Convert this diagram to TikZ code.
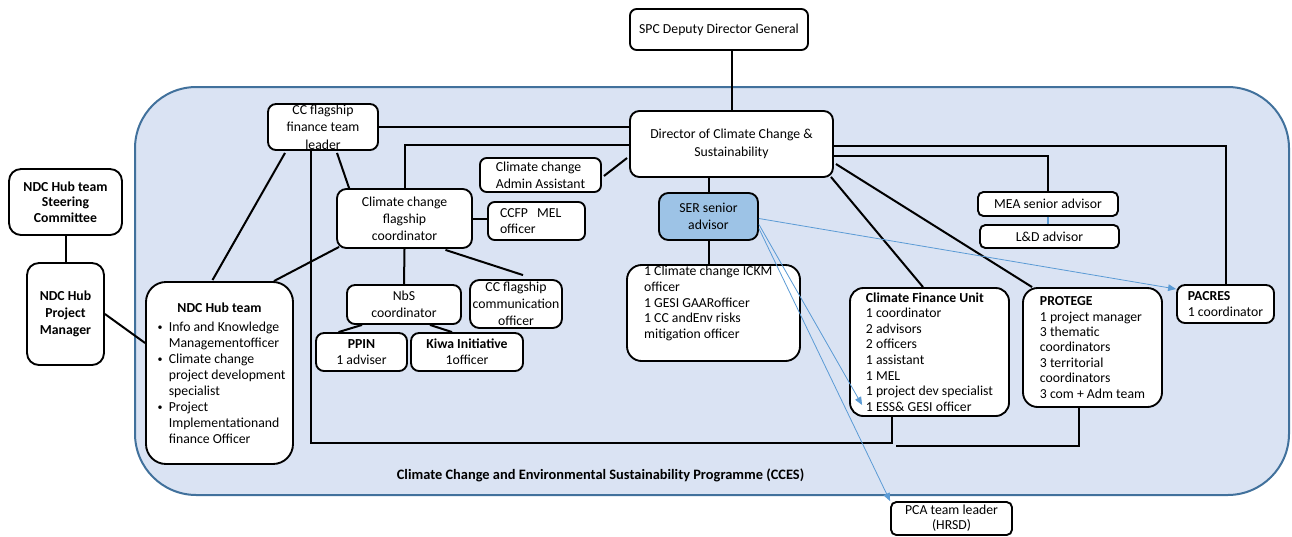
\documentclass[tikz,border=0pt]{standalone}
\usepackage{fontspec}
\setmainfont{Carlito}
\usetikzlibrary{arrows.meta,calc}
\definecolor{cbg}{HTML}{DAE3F3}
\definecolor{cborder}{HTML}{41719C}
\definecolor{serfill}{HTML}{9DC3E6}
\definecolor{arrowblue}{HTML}{5B9BD5}
\newcommand\hubitem[1]{\par\vspace{2.2pt}\noindent\makebox[10pt][l]{\hspace{1.5pt}\raisebox{0.15ex}{\fontsize{7.5}{7.5}\selectfont\textbullet}}\parbox[t]{92pt}{\raggedright #1}}
\begin{document}
\begin{tikzpicture}[x=0.75pt,y=-0.75pt,
  box/.style={draw=black, line width=1.4pt, fill=white, rounded corners=5pt, inner sep=0pt, align=center, font=\fontsize{10.3}{12.5}\selectfont},
  conn/.style={line width=1.5pt, draw=black},
  bluearrow/.style={draw=arrowblue, line width=0.6pt, -{Triangle[length=6pt,width=5pt]}},
  blueline/.style={draw=arrowblue, line width=1.1pt},
  container/.style={draw=cborder, line width=1.5pt, fill=cbg, rounded corners=46pt},
]
\useasboundingbox (0,0) rectangle (1292,536);
% container
\draw[container] (135,87) rectangle (1289,495);
\node[font=\bfseries\fontsize{10.8}{12}\selectfont] (lbl) at (600.5,475) {Climate Change and Environmental Sustainability Programme (CCES)};

% nodes
\node[box, minimum width=133.5pt, minimum height=30.75pt] (spc) at (719,29.5) {SPC Deputy Director General};
\node[box, rounded corners=7pt, minimum width=152.25pt, minimum height=49.5pt, font=\fontsize{10.3}{13.3}\selectfont] (dir) at (731.5,144) {Director of Climate Change \&\\Sustainability};
\node[box, rounded corners=6pt, minimum width=82.5pt, minimum height=34.5pt, font=\fontsize{10.3}{13}\selectfont] (fin) at (323,127) {CC flagship\\finance team\\leader};
\node[box, align=left, minimum width=90.75pt, minimum height=25.5pt] (admin) at (540.5,175) {Climate change\\Admin Assistant};
\node[box, rounded corners=7pt, minimum width=101.25pt, minimum height=44.25pt, font=\fontsize{10.3}{12.75}\selectfont] (coord) at (404.5,218.5) {Climate change\\flagship\\coordinator};
\node[box, align=left, text width=54.75pt, minimum width=72.75pt, minimum height=28.5pt] (mel) at (536.5,221) {CCFP\ \ MEL\\officer};
\node[box, rounded corners=9pt, minimum width=84.75pt, minimum height=49.5pt, font=\bfseries\fontsize{10.3}{11.7}\selectfont] (ndcsc) at (65.5,202) {NDC Hub team\\Steering\\Committee};
\node[box, rounded corners=9pt, minimum width=57.75pt, minimum height=76.5pt, font=\bfseries\fontsize{10.3}{13}\selectfont] (pm) at (65.5,314) {NDC Hub\\Project\\Manager};
\node[box, rounded corners=15pt, minimum width=110.25pt, minimum height=136.5pt] (hub) at (219.5,373) {\parbox{96pt}{\fontsize{10.3}{12}\selectfont\centering\textbf{NDC Hub team}\par\raggedright
  \hubitem{\mbox{Info and Knowledge}\\\mbox{Managementofficer}}
  \hubitem{Climate change\\\mbox{project development}\\specialist}
  \hubitem{Project\\\mbox{Implementationand}\\finance Officer}}};
\node[box, rounded corners=6pt, minimum width=85.5pt, minimum height=29.25pt] (nbs) at (404,304.5) {NbS\\coordinator};
\node[box, rounded corners=7pt, minimum width=69pt, minimum height=36pt, font=\fontsize{10.3}{12.75}\selectfont] (comm) at (516,304) {CC flagship\\communication\\officer};
\node[box, rounded corners=6pt, minimum width=68.25pt, minimum height=28.5pt, font=\fontsize{10.3}{12}\selectfont] (ppin) at (361.5,352) {\textbf{PPIN}\\1 adviser};
\node[box, rounded corners=6pt, minimum width=84pt, minimum height=28.5pt, font=\fontsize{10.3}{12}\selectfont] (kiwa) at (467,352) {\textbf{Kiwa Initiative}\\1officer};
\node[box, fill=serfill, rounded corners=7pt, minimum width=74.25pt, minimum height=35.25pt] (ser) at (708.5,216.5) {SER senior\\advisor};
\node[box, rounded corners=11pt, minimum width=129.75pt, minimum height=72pt] (ickm) at (713.5,313) {\parbox[c][70pt][t]{104pt}{\fontsize{10.3}{11.7}\selectfont\raggedright 1 Climate change ICKM\\officer\\1 GESI GAARofficer\\1 CC andEnv risks\\mitigation officer}};
\node[box, rounded corners=4pt, minimum width=105pt, minimum height=18pt] (mea) at (1048,204) {MEA senior advisor};
\node[box, rounded corners=4pt, minimum width=104.25pt, minimum height=17.25pt] (ld) at (1049.5,236.5) {L\&D advisor};
\node[box, align=left, rounded corners=10pt, minimum width=119.25pt, minimum height=96pt, font=\fontsize{10.3}{11.7}\selectfont] (cfu) at (929.5,352) {\textbf{Climate Finance Unit}\\1 coordinator\\2 advisors\\2 officers\\1 assistant\\1 MEL\\1 project dev specialist\\1 ESS\& GESI officer};
\node[box, align=left, rounded corners=11pt, minimum width=104.25pt, minimum height=89.25pt, font=\fontsize{10.3}{11.6}\selectfont] (prot) at (1092.5,347.5) {\textbf{PROTEGE}\\1 project manager\\3 thematic\\coordinators\\3 territorial\\coordinators\\3 com + Adm team};
\node[box, align=left, rounded corners=6pt, minimum width=72.75pt, minimum height=28.5pt, font=\fontsize{10.3}{11.5}\selectfont] (pacres) at (1225.5,304) {\textbf{PACRES}\\1 coordinator};
\node[box, rounded corners=4pt, minimum width=90.75pt, minimum height=24.75pt, font=\fontsize{10.3}{11.5}\selectfont] (pca) at (951.5,518.5) {PCA team leader\\(HRSD)};

% connectors
\draw[conn] (ndcsc.south) -- (ndcsc.south |- pm.north);
\draw[conn] (pm.east) -- ($(hub.west)+(0,-30)$);
\draw[conn] (dir.north) -- (dir.north |- spc.south);
\draw[conn] (fin.east) -- (fin.east -| dir.west);
\draw[conn] ($(dir.west)+(0,1)$) -| (coord.north);
\draw[conn] ($(admin.east)+(2,1)$) -- ($(dir.west)+(-2,14)$);
\draw[conn] (coord.east) -- (coord.east -| mel.west);
\draw[conn] ($(fin.south)+(-38,2)$) -- ($(hub.north)+(-7,-1)$);
\draw[conn] ($(fin.south)+(14,2)$) -- ($(coord.north west)+(13,0)$);
\coordinate (b1) at (892,443);
\draw[conn] ($(fin.south)+(-12,0)$) |- (b1) -- (b1 |- cfu.south);
\coordinate (b2) at (896,446);
\draw[conn] (b2) -| ($(prot.south)+(-13.5,0)$);
\draw[conn] ($(coord.south west)+(3,-2)$) -- ($(hub.north east)+(-20,0)$);
\draw[conn] (coord.south) -- (nbs.north);
\draw[conn] ($(coord.south)+(41,1)$) -- ($(comm.north)+(7,-4)$);
\draw[conn] ($(nbs.south)+(-42,0)$) -- ($(ppin.north)+(-23,0)$);
\draw[conn] ($(nbs.south)+(26,0)$) -- ($(kiwa.north)+(-15,0)$);
\draw[conn] (ser.north) -- (ser.north |- dir.south);
\draw[conn] (ser.south) -- (ser.south |- ickm.north);
\draw[conn] ($(dir.east)+(0,12)$) -| (mea.north);
\draw[conn] ($(dir.east)+(0,2)$) -| (pacres.north);
\draw[conn] ($(dir.south east)+(-3,-1)$) -- ($(cfu.north)+(-6.5,0)$);
\draw[conn] ($(dir.east)+(2,20)$) -- ($(prot.north west)+(10,0)$);
\draw[blueline] (mea.south) -- (mea.south |- ld.north);

% blue arrows
\draw[bluearrow] ($(ser.east)+(0,2)$) -- ($(pacres.west)+(0,-15)$);
\draw[bluearrow] ($(ser.east)+(0,8)$) -- ($(cfu.west)+(13,53)$);
\draw[bluearrow] ($(ser.east)+(0,12)$) -- (pca.north west);
\end{tikzpicture}
\end{document}
